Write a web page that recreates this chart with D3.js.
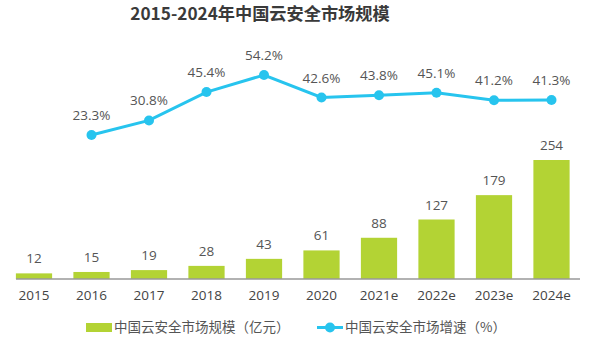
<!DOCTYPE html>
<html><head><meta charset="utf-8">
<script src="https://cdn.jsdelivr.net/npm/d3@7"></script>
<style>
body{margin:0;background:#fff;}
svg text{font-family:"Open Sans","Noto Sans CJK SC",sans-serif;}
</style></head>
<body><svg id="c" width="590" height="342"></svg>
<script>
const categories = ["2015","2016","2017","2018","2019","2020","2021e","2022e","2023e","2024e"];
const marketSize = [12,15,19,28,43,61,88,127,179,254];
const growthCats = ["2016","2017","2018","2019","2020","2021e","2022e","2023e","2024e"];
const growthRate = [23.3,30.8,45.4,54.2,42.6,43.8,45.1,41.2,41.3];
const seriesNames = ["中国云安全市场规模（亿元）","中国云安全市场增速（%）"];
const title = "2015-2024年中国云安全市场规模";

const svg = d3.select("#c");
const barColor = "#b3d334", lineColor = "#27c4ee", textColor = "#555";
const x = d3.scaleBand().domain(categories).range([5.25,580.25]).paddingInner(0.37).paddingOuter(0.185);
const yBar = d3.scaleLinear().domain([0,254]).range([279,160]);
const yLine = d3.scaleLinear().domain([0,54.2]).range([180.2,75]);

svg.append("text").attr("x",260).attr("y",20).attr("text-anchor","middle")
  .attr("font-size",17.2).attr("font-weight","bold").attr("fill","#3a3a3a")
  .style("font-family",'"Noto Sans CJK SC",sans-serif').text(title);

svg.selectAll("rect.bar").data(marketSize).enter().append("rect").attr("class","bar")
  .attr("x",(d,i)=>x(categories[i])).attr("width",x.bandwidth())
  .attr("y",d=>yBar(d)).attr("height",d=>yBar(0)-yBar(d)).attr("fill",barColor);

svg.selectAll("text.bv").data(marketSize).enter().append("text").attr("class","bv")
  .attr("x",(d,i)=>x(categories[i])+x.bandwidth()/2).attr("y",d=>yBar(d)-10)
  .attr("text-anchor","middle").attr("font-size",13.5).attr("fill",textColor).text(d=>d);

const axis = d3.axisBottom(x).tickSize(0).tickPadding(11);
const ag = svg.append("g").attr("transform","translate(0,279)").call(axis);
ag.select(".domain").attr("stroke","#999").attr("stroke-width",1.5).attr("d","M16,0H580");
ag.selectAll("text").attr("font-size",13.5).attr("fill","#444").style("font-family",'"Open Sans",sans-serif');

const cx = c => x(c)+x.bandwidth()/2;
const line = d3.line().x((d,i)=>cx(growthCats[i])).y(d=>yLine(d));
svg.append("path").datum(growthRate).attr("d",line).attr("fill","none")
  .attr("stroke",lineColor).attr("stroke-width",3);
svg.selectAll("circle.pt").data(growthRate).enter().append("circle").attr("class","pt")
  .attr("cx",(d,i)=>cx(growthCats[i])).attr("cy",d=>yLine(d)).attr("r",5).attr("fill",lineColor);
svg.selectAll("text.lv").data(growthRate).enter().append("text").attr("class","lv")
  .attr("x",(d,i)=>cx(growthCats[i])).attr("y",d=>yLine(d)-15)
  .attr("text-anchor","middle").attr("font-size",13.5).attr("fill",textColor).text(d=>d.toFixed(1)+"%");

// legend
const lg = svg.append("g");
lg.append("rect").attr("x",86).attr("y",323).attr("width",26).attr("height",9).attr("fill",barColor);
lg.append("text").attr("x",114).attr("y",332).attr("font-size",13.5).attr("fill",textColor)
  .style("font-family",'"Noto Sans CJK SC",sans-serif').text(seriesNames[0]);
lg.append("line").attr("x1",317).attr("x2",343).attr("y1",327.5).attr("y2",327.5).attr("stroke",lineColor).attr("stroke-width",3);
lg.append("circle").attr("cx",330).attr("cy",327.5).attr("r",5).attr("fill",lineColor);
lg.append("text").attr("x",345).attr("y",332).attr("font-size",13.5).attr("fill",textColor)
  .style("font-family",'"Noto Sans CJK SC",sans-serif').text(seriesNames[1]);
</script></body></html>
